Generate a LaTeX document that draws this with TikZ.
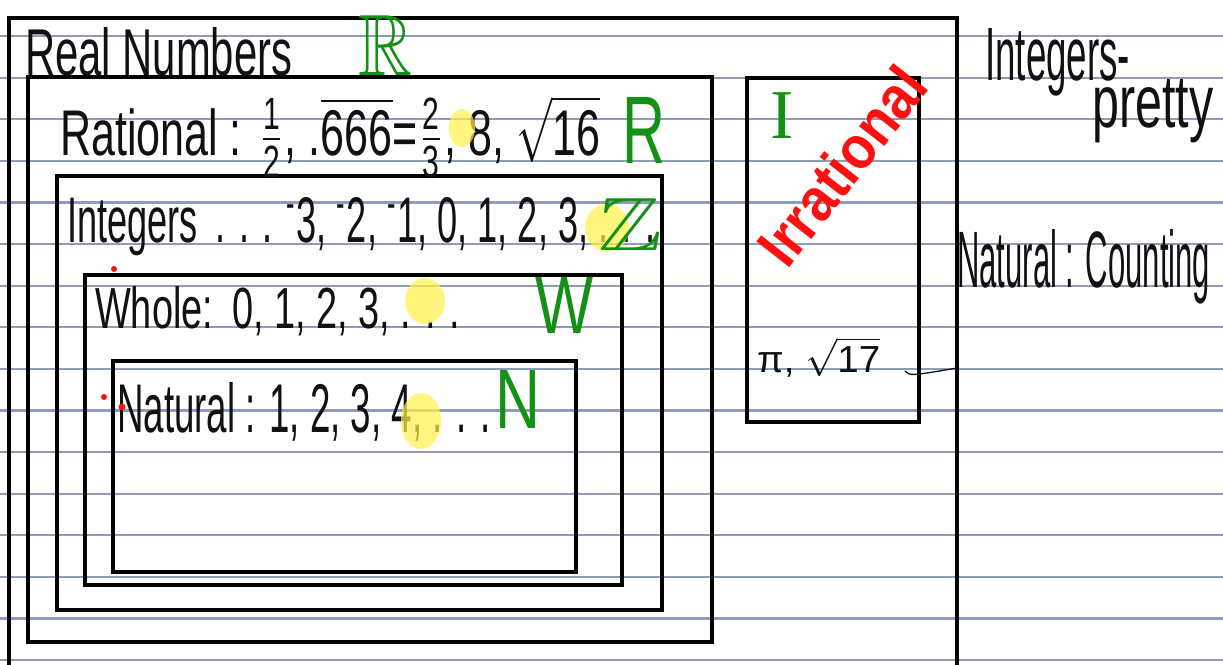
\documentclass[tikz,border=0pt]{standalone}
\usepackage{amsmath, amssymb}
\usepackage{fontspec}
\setmainfont{Liberation Sans}
\newfontfamily\serifhand{Liberation Serif}
\usepackage{tikz}
\usetikzlibrary{positioning}
\definecolor{FigText}{HTML}{111111}
\definecolor{FigGreen}{HTML}{149114}
\definecolor{FigRed}{HTML}{FF1010}
\definecolor{FigYellow}{HTML}{FFF24A}
\definecolor{FigRule}{HTML}{8D9DB5}
% squeeze a handwritten text into w x h (pt)
\newcommand{\handtext}[3]{\resizebox{#1pt}{#2pt}{#3}}

\begin{document}
\begin{tikzpicture}[
x=1pt, y=-1pt,
hand/.style={anchor=base west, inner sep=0pt, text=FigText},
greenlabel/.style={anchor=base west, inner sep=0pt, text=FigGreen},
frame/.style={draw=black, line width=4.5pt},
ruling/.style={draw=FigRule, line width=2.2pt},
highlight/.style={fill=FigYellow, opacity=0.7},
stray/.style={fill=FigRed},
pen/.style={draw=FigText, line width=1.3pt, line cap=round}
]
\useasboundingbox (0,0) rectangle (1223,664);
\fill[white] (0,0) rectangle (1223,664);

% Ruled paper
\foreach \k in {0,...,15}
  \draw[ruling] (0,{36+41.6*\k}) -- (1223,{36+41.6*\k});

% Nested boxes
\draw[frame] (9,18) rectangle (957,690);
\draw[frame] (28,77) rectangle (712,642);
\draw[frame] (57,176) rectangle (662,610);
\draw[frame] (85,275) rectangle (622,585);
\draw[frame] (113,361) rectangle (576,572);
\draw[frame] (747,78) rectangle (919,422);

% Real numbers
\node[hand] (real) at (25,75) {\handtext{267}{48}{Real Numbers}};
\node[greenlabel] (realsym) at (358,75) {\handtext{54}{60}{$\mathbb{R}$}};

% Rational
\node[hand] (rational) at (60,155) {\handtext{540}{60}{Rational : $\frac{\text{1}}{\text{2}}$, .$\overline{\text{666}}$=$\frac{\text{2}}{\text{3}}$, 8, $\sqrt{\text{16}}$}};
\node[greenlabel] (ratsym) at (622,163) {\handtext{43}{66}{R}};

% Integers
\node[hand] (integers) at (67,242) {\handtext{588}{45}{Integers\enspace. . . \textsuperscript{-}3, \textsuperscript{-}2, \textsuperscript{-}1, 0, 1, 2, 3, . . .}};

% Whole
\node[hand] (whole) at (95,328) {\handtext{365}{42}{Whole:\enspace 0, 1, 2, 3, . . .}};
\node[greenlabel] (wholesym) at (535,333) {\handtext{58}{56}{W}};

% Natural
\node[hand] (natural) at (117,432) {\handtext{373}{50}{Natural : 1, 2, 3, 4, . . .}};
\node[greenlabel] (natsym) at (495,428) {\handtext{45}{58}{N}};

% Irrational
\node[greenlabel, font=\serifhand\fontsize{70}{70}\selectfont] (irrsym) at (770,138) {I};
\node[inner sep=0pt, text=FigRed, rotate=52] (irrational) at (842,166) {\handtext{232}{44}{\bfseries Irrational}};
\node[hand] (irrex) at (757,372) {\handtext{123}{35}{π, $\sqrt{\text{17}}$}};

% Notes on the right
\node[hand] (note1) at (985,80) {\handtext{145}{52}{Integers-}};
\node[hand] (note2) at (1092,127) {\handtext{121}{48}{pretty}};
\node[hand] (note3) at (957,287) {\handtext{253}{58}{Natural : Counting}};

% Highlights
\fill[highlight] (462,128) ellipse [x radius=13, y radius=19];
\fill[highlight] (607,228) ellipse [x radius=22, y radius=24];
\fill[highlight] (425,301) ellipse [x radius=20, y radius=23];
\fill[highlight] (421,421) ellipse [x radius=20, y radius=28];

\node[greenlabel] (intsym) at (598,250) {\handtext{64}{52}{$\mathbb{Z}$}};

% Stray marks and tick
\fill[stray] (114,269) circle (3);
\fill[stray] (104,397) circle (3);
\fill[stray] (122,407) circle (3.5);
\coordinate (tickstart) at (905,371);
\coordinate (tickend) at (957,368);
\draw[pen] (tickstart) .. controls (910,376) .. (tickend);

\end{tikzpicture}
\end{document}
